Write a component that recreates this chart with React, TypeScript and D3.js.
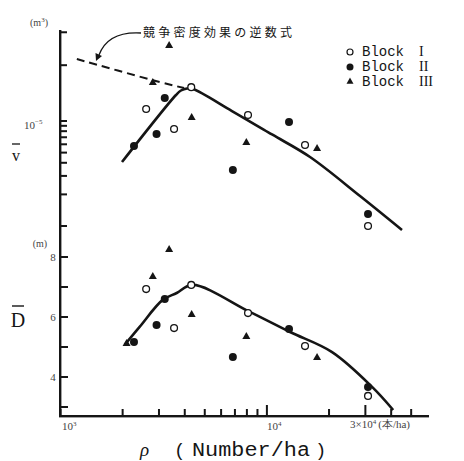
import React from "react";
import * as d3 from "d3";

// Stand density (trees/ha) for each block
const rhoBlock1 = [2600, 3550, 4300, 8100, 15300, 30900];
const rhoBlock2 = [2270, 2920, 3200, 6840, 12800, 30900];
const rhoBlock3 = [2090, 2800, 3360, 4320, 7950, 17500];

// Mean tree volume v̄ (m³) per stand
const vBlock1 = [1.3e-5, 0.84e-5, 2.1e-5, 1.14e-5, 0.59e-5, 1.0e-6];
const vBlock2 = [0.578e-5, 0.752e-5, 1.66e-5, 0.341e-5, 0.978e-5, 1.3e-6];
const vBlock3: (number | null)[] = [null, 2.35e-5, 5.3e-5, 1.09e-5, 0.63e-5, 0.553e-5];

// Mean diameter D̄ (cm) per stand
const dBlock1 = [6.93, 5.63, 7.07, 6.13, 5.03, 3.37];
const dBlock2 = [5.17, 5.73, 6.6, 4.67, 5.6, 3.67];
const dBlock3 = [5.13, 7.37, 8.27, 6.1, 5.37, 4.67];

// Fitted trend of v̄
const vCurveRho = [1986, 3627, 3835, 4102, 4385, 6773, 10585, 16180, 28260, 45140];
const vCurveVal = [0.407e-5, 1.769e-5, 1.952e-5, 2.04e-5, 2.017e-5, 1.245e-5, 0.744e-5, 0.454e-5, 0.193e-5, 0.916e-6];

// Reciprocal equation of the competition-density effect (dashed)
const cdRho = [1200, 2770, 3970];
const cdVal = [3.89e-5, 2.46e-5, 2.06e-5];

// Fitted trend of D̄
const dCurveRho = [2046, 2417, 3127, 3656, 4366, 8265, 12940, 20690, 32330, 40910];
const dCurveVal = [5.07, 5.67, 6.57, 6.8, 7.07, 6.17, 5.5, 4.83, 3.67, 2.9];

// Axis ticks
const xTicks = [1000, 2000, 3000, 4000, 5000, 6000, 7000, 8000, 9000, 10000, 20000, 30000, 40000, 50000];
const xMajorTicks = [10000, 30000];
const vTicks = [1e-6, 2e-6, 3e-6, 4e-6, 5e-6, 6e-6, 7e-6, 8e-6, 9e-6, 1e-5, 3.4e-5, 7e-5];
const dTicks = [3, 4, 5, 6, 7, 8];
const dTickLabels = [4, 6, 8];

const legendLabels = ["I", "II", "III"];
const annotation = "競争密度効果の逆数式";

const ink = "#151515";

export default function App() {
  const x = d3.scaleLog().domain([1000, 50000]).range([60.5, 60.5 + 206.4 * Math.log10(50)]);
  const yV = d3.scaleLog().domain([1e-5 * Math.pow(10, -109 / 105), 1e-5 * Math.pow(10, 91 / 105)]).range([230, 30]);
  const yD = d3.scaleLinear().domain([2.7, 8]).range([416, 257]);

  const axisX = 60;
  const axisY = 416;

  const vLine = d3
    .line<number>()
    .x((_, i) => x(vCurveRho[i]))
    .y((d) => yV(d))
    .curve(d3.curveCatmullRom.alpha(0.5));
  const cdLine = d3
    .line<number>()
    .x((_, i) => x(cdRho[i]))
    .y((d) => yV(d))
    .curve(d3.curveCatmullRom.alpha(0.5));
  const dLine = d3
    .line<number>()
    .x((_, i) => x(dCurveRho[i]))
    .y((d) => yD(d))
    .curve(d3.curveCatmullRom.alpha(0.5));

  const tri = (cx: number, cy: number, s = 4) =>
    `M${cx},${cy - s} L${cx + s},${cy + s * 0.75} L${cx - s},${cy + s * 0.75} Z`;

  const openC = (cx: number, cy: number, k: string) => (
    <circle key={k} cx={cx} cy={cy} r={3.4} fill="#fff" stroke={ink} strokeWidth={1.3} />
  );
  const fillC = (cx: number, cy: number, k: string) => <circle key={k} cx={cx} cy={cy} r={4} fill={ink} />;
  const triM = (cx: number, cy: number, k: string) => <path key={k} d={tri(cx, cy)} fill={ink} />;

  return (
    <svg width={464} height={461} style={{ position: "absolute", left: 0, top: 0, background: "#fff" }}>
      {/* axes */}
      <rect x={axisX - 1} y={30} width={2.4} height={axisY - 30 + 1} fill={ink} />
      <rect x={axisX - 1} y={axisY - 1} width={430 - axisX} height={2.4} fill={ink} />

      {/* tick marks, pointing into the plot */}
      {xTicks.map((t) => {
        const h = xMajorTicks.includes(t) ? 11 : 7;
        return <rect key={"xt" + t} x={x(t) - 1} y={axisY - h} width={2} height={h} fill={ink} />;
      })}
      {vTicks.map((t) => (
        <rect key={"vt" + t} x={axisX} y={yV(t) - 1} width={7} height={2} fill={ink} />
      ))}
      {dTicks.map((t) => (
        <rect key={"dt" + t} x={axisX} y={yD(t) - 1} width={8} height={2} fill={ink} />
      ))}

      {/* tick labels */}
      <g fontFamily="Liberation Serif" fill="#444" fontSize={11}>
        <text x={62} y={430}>
          10<tspan fontSize={7} dy={-4}>3</tspan>
        </text>
        <text x={267} y={430}>
          10<tspan fontSize={7} dy={-4}>4</tspan>
        </text>
        <text x={350} y={428}>
          3×10<tspan fontSize={7} dy={-4}>4</tspan>
          <tspan dy={4} dx={2}>(本/ha)</tspan>
        </text>
        <text x={24} y={129}>
          10<tspan fontSize={7} dy={-5}>−5</tspan>
        </text>
        {dTickLabels.map((t) => (
          <text key={"dl" + t} x={53} y={yD(t) + 4} textAnchor="middle">
            {t}
          </text>
        ))}
        <text x={39} y={26} fontSize={10} textAnchor="middle">
          (m<tspan fontSize={7} dy={-4}>3</tspan>
          <tspan dy={4}>)</tspan>
        </text>
        <text x={40} y={247} fontSize={10} textAnchor="middle">
          (m)
        </text>
      </g>

      {/* axis titles */}
      <g fontFamily="Liberation Serif" fill={ink}>
        <line x1={12} x2={20} y1={144} y2={144} stroke={ink} strokeWidth={1.3} />
        <text x={16} y={161} fontSize={16} textAnchor="middle">
          v
        </text>
        <line x1={12} x2={24} y1={306} y2={306} stroke={ink} strokeWidth={1.4} />
        <text x={18} y={327} fontSize={20} textAnchor="middle">
          D
        </text>
      </g>
      <g fontFamily="Liberation Mono" fill={ink}>
        <text x={140} y={456} fontSize={19} fontStyle="italic" fontFamily="Liberation Serif">
          ρ
        </text>
        <text x={174} y={456} fontSize={19}>
          (
        </text>
        <text x={192} y={456} fontSize={20} textLength={118} lengthAdjust="spacingAndGlyphs">
          Number/ha
        </text>
        <text x={315} y={456} fontSize={19}>
          )
        </text>
      </g>

      {/* trend lines */}
      <path d={cdLine(cdVal) || ""} fill="none" stroke={ink} strokeWidth={2} strokeDasharray="8 5" />
      <path d={vLine(vCurveVal) || ""} fill="none" stroke={ink} strokeWidth={2.6} />
      <path d={dLine(dCurveVal) || ""} fill="none" stroke={ink} strokeWidth={2.6} />

      {/* annotation */}
      <path d="M141,33 Q108,31 99,55" fill="none" stroke={ink} strokeWidth={1.3} />
      <path d="M96,61 L95.5,53 L102,56 Z" fill={ink} />
      <text
        x={143}
        y={37}
        fontFamily="Noto Sans CJK JP"
        fontSize={12}
        fill={ink}
        textLength={149}
        lengthAdjust="spacing"
      >
        {annotation}
      </text>

      {/* points: v̄ */}
      {rhoBlock1.map((r, i) => openC(x(r), yV(vBlock1[i]), "v1" + i))}
      {rhoBlock2.map((r, i) => fillC(x(r), yV(vBlock2[i]), "v2" + i))}
      {rhoBlock3.map((r, i) => (vBlock3[i] == null ? null : triM(x(r), yV(vBlock3[i] as number), "v3" + i)))}

      {/* points: D̄ */}
      {rhoBlock1.map((r, i) => openC(x(r), yD(dBlock1[i]), "d1" + i))}
      {rhoBlock2.map((r, i) => fillC(x(r), yD(dBlock2[i]), "d2" + i))}
      {rhoBlock3.map((r, i) => triM(x(r), yD(dBlock3[i]), "d3" + i))}

      {/* legend */}
      <g>
        <circle cx={350} cy={52} r={3} fill="#fff" stroke={ink} strokeWidth={1.2} />
        <circle cx={350} cy={67} r={3.5} fill={ink} />
        <path d={tri(350, 81, 3.5)} fill={ink} />
        {legendLabels.map((l, i) => (
          <g key={"lg" + i} fontFamily="Liberation Mono" fontSize={14} fill={ink}>
            <text x={362} y={56 + i * 15}>Block</text>
            <text x={419} y={56 + i * 15} fontFamily="Liberation Serif" fontSize={14}>
              {l}
            </text>
          </g>
        ))}
      </g>
    </svg>
  );
}
